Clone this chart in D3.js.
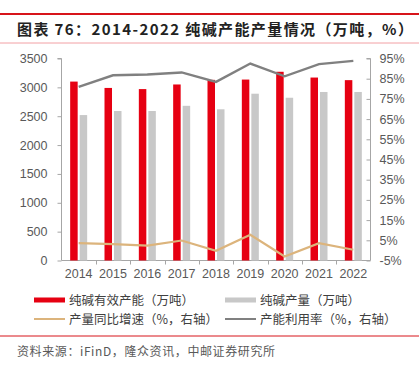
<!DOCTYPE html>
<html>
<head>
<meta charset="utf-8">
<script src="https://cdn.jsdelivr.net/npm/d3@7"></script>
<style>
  body { margin: 0; background: #fff; }
  svg { display: block; }
</style>
</head>
<body>
<svg id="chart" width="419" height="368"></svg>
<script>
const years = ['2014', '2015', '2016', '2017', '2018', '2019', '2020', '2021', '2022']
const capacity = [3100, 2990, 2970, 3050, 3130, 3135, 3270, 3170, 3125]
const output = [2520, 2590, 2590, 2680, 2620, 2890, 2820, 2920, 2920]
const growth = [3.6, 3.1, 2.4, 4.9, -0.2, 7.7, -3.0, 3.6, 0.3]
const utilization = [81.0, 86.7, 87.1, 88.1, 83.4, 92.5, 86.2, 92.2, 93.8]
const leftTicks = [0, 500, 1000, 1500, 2000, 2500, 3000, 3500]
const rightTicks = [-5, 5, 15, 25, 35, 45, 55, 65, 75, 85, 95]

const red = '#e60012'
const lightGray = '#c8c8c8'
const tan = '#dcb47c'
const darkGray = '#808080'
const axisColor = '#a6a6a6'
const labelColor = '#595959'
const font = "'Liberation Sans', Arial, 'Noto Sans CJK SC', sans-serif"
const cjk = "'Noto Sans CJK SC', sans-serif"

const svg = d3.select('#chart')
const margin = { top: 58.5, bottom: 260.5, left: 61.5, right: 370.5 }

// header
svg.append('line').attr('x1', 0).attr('x2', 419).attr('y1', 14).attr('y2', 14)
  .attr('stroke', '#d7141a').attr('stroke-width', 2)
svg.append('text').attr('x', 17).attr('y', 35)
  .attr('font-family', cjk).attr('font-size', 15).attr('font-weight', 'bold').attr('fill', '#222')
  .attr('letter-spacing', 1.4)
  .text('图表 76：2014-2022 纯碱产能产量情况（万吨，%）')
svg.append('line').attr('x1', 0).attr('x2', 419).attr('y1', 43).attr('y2', 43)
  .attr('stroke', '#f2a0a4').attr('stroke-width', 1)

const x = d3.scaleBand().domain(years).range([margin.left, margin.right])
const yL = d3.scaleLinear().domain([0, 3500]).range([margin.bottom, margin.top])
const yR = d3.scaleLinear().domain([-5, 95]).range([margin.bottom, margin.top])

// axes
const leftAxis = svg.append('g').attr('transform', `translate(${margin.left},0)`)
  .call(d3.axisLeft(yL).tickValues(leftTicks).tickSize(4).tickPadding(10).tickFormat(d3.format('d')))
const rightAxis = svg.append('g').attr('transform', `translate(${margin.right},0)`)
  .call(d3.axisRight(yR).tickValues(rightTicks).tickSize(-4).tickPadding(9).tickFormat(d => d + '%'))
const bottomAxis = svg.append('g').attr('transform', `translate(0,${margin.bottom})`)
  .call(d3.axisBottom(x).tickSize(0).tickPadding(9))

bottomAxis.selectAll('.tick line').remove()
bottomAxis.selectAll('.xtick')
  .data(years.slice(1))
  .enter()
  .append('line')
  .attr('x1', d => Math.round(x(d)) + 0.5)
  .attr('x2', d => Math.round(x(d)) + 0.5)
  .attr('y1', 0).attr('y2', 4)
  .attr('stroke', axisColor)

;[leftAxis, rightAxis, bottomAxis].forEach(g => {
  g.select('.domain').attr('stroke', axisColor)
  g.selectAll('.tick line').attr('stroke', axisColor)
  g.selectAll('text').attr('fill', labelColor).attr('font-family', font).attr('font-size', 12.5)
})
leftAxis.select('.domain').attr('d', `M-4,${margin.top}H0V${margin.bottom}`)
rightAxis.select('.domain').attr('d', `M-4,${margin.top}H0V${margin.bottom}`)
bottomAxis.select('.domain').attr('d', `M${margin.left},0H${margin.right}`)

// bars
const barW = 7.5
const bars = svg.append('g').attr('class', 'chart-bars')
bars.selectAll('.cap')
  .data(years)
  .enter()
  .append('rect')
  .attr('class', 'cap')
  .attr('x', d => x(d) + x.bandwidth() / 2 - barW - 1)
  .attr('width', barW)
  .attr('y', (d, i) => yL(capacity[i]))
  .attr('height', (d, i) => yL(0) - yL(capacity[i]))
  .style('fill', red)
bars.selectAll('.out')
  .data(years)
  .enter()
  .append('rect')
  .attr('class', 'out')
  .attr('x', d => x(d) + x.bandwidth() / 2 + 1)
  .attr('width', barW)
  .attr('y', (d, i) => yL(output[i]))
  .attr('height', (d, i) => yL(0) - yL(output[i]))
  .style('fill', lightGray)

// lines
const line = d3.line()
  .x(d => x(d[0]) + x.bandwidth() / 2)
  .y(d => yR(d[1]))
svg.append('path').datum(d3.zip(years, growth))
  .attr('d', line).attr('fill', 'none').attr('stroke', tan).attr('stroke-width', 2.2)
svg.append('path').datum(d3.zip(years, utilization))
  .attr('d', line).attr('fill', 'none').attr('stroke', darkGray).attr('stroke-width', 2.4)

// legend
const legend = [
  { label: '纯碱有效产能（万吨）', color: red, h: 5, x: 34, y: 300 },
  { label: '纯碱产量（万吨）', color: lightGray, h: 5, x: 225, y: 300 },
  { label: '产量同比增速（%，右轴）', color: tan, h: 2, x: 34, y: 319 },
  { label: '产能利用率（%，右轴）', color: darkGray, h: 2, x: 225, y: 319 }
]
const items = svg.append('g').selectAll('g').data(legend).enter().append('g')
items.append('rect')
  .attr('x', d => d.x).attr('width', 31)
  .attr('y', d => d.y - d.h / 2).attr('height', d => d.h)
  .style('fill', d => d.color)
items.append('text')
  .attr('x', d => d.x + 35).attr('y', d => d.y + 4.5)
  .attr('font-family', cjk).attr('font-size', 12.5).attr('fill', '#404040')
  .text(d => d.label)

// footer
svg.append('line').attr('x1', 0).attr('x2', 419).attr('y1', 336).attr('y2', 336)
  .attr('stroke', '#d7141a').attr('stroke-width', 1)
svg.append('text').attr('x', 17).attr('y', 356)
  .attr('font-family', cjk).attr('font-size', 12).attr('fill', '#595959')
  .attr('letter-spacing', 0.6)
  .text('资料来源：iFinD，隆众资讯，中邮证券研究所')
</script>
</body>
</html>
